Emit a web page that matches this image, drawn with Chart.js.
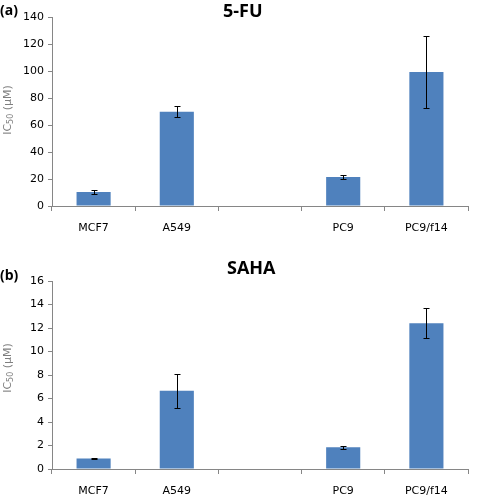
<!DOCTYPE html>
<html>
<head>
<meta charset="utf-8">
<script src="https://cdn.jsdelivr.net/npm/chart.js@4/dist/chart.umd.min.js"></script>
<style>
body { margin: 0; background: #fff; }
#wrap { position: relative; width: 477px; height: 496px; overflow: hidden; }
.box { position: absolute; left: 0; width: 477px; }
.lbl { position: absolute; font-family: "Open Sans", sans-serif; font-weight: bold; color: #000; white-space: nowrap; line-height: 20px; }
.ytitle { position: absolute; width: 100px; height: 14px; line-height: 14px; text-align: center;
  transform: rotate(-90deg); color: #7f7f7f; font-family: "DejaVu Sans", sans-serif; font-size: 11px; white-space: nowrap; }
.ytitle sub { font-size: 8px; vertical-align: -2px; }
</style>
</head>
<body>
<div id="wrap">
  <div class="box" style="top:0;height:245px"><canvas id="fuChart"></canvas></div>
  <div class="box" style="top:248px;height:248px"><canvas id="sahaChart"></canvas></div>
  <div class="lbl" style="left:0;top:0px;font-size:14px">(a)</div>
  <div class="lbl" style="left:223px;top:0px;font-size:18px">5-FU</div>
  <div class="lbl" style="left:0;top:265px;font-size:14px">(b)</div>
  <div class="lbl" style="left:227px;top:257px;font-size:18px">SAHA</div>
  <div class="ytitle" style="left:-42px;top:103px">IC<sub>50</sub> (μM)</div>
  <div class="ytitle" style="left:-42px;top:361px">IC<sub>50</sub> (μM)</div>
</div>
<script>
"use strict";

const cellLines = ['MCF7', 'A549', '', 'PC9', 'PC9/f14'];

// 5-FU IC50 (µM) and error
const fuValues = [10.4, 69.8, null, 21.4, 99.3];
const fuErrors = [1.8, 4.0, null, 1.5, 26.7];
const fuTicks = [0, 20, 40, 60, 80, 100, 120, 140];

// SAHA IC50 (µM) and error
const sahaValues = [0.9, 6.65, null, 1.85, 12.4];
const sahaErrors = [0.04, 1.45, null, 0.15, 1.27];
const sahaTicks = [0, 2, 4, 6, 8, 10, 12, 14, 16];

const AXIS_COLOR = '#868686';
const BAR_COLOR = '#4f81bd';

// draws the black error bars with caps on top of each bar
const errorBars = {
    id: 'errorBars',
    afterDatasetsDraw(chart, args, opts) {
        const { ctx } = chart;
        const yScale = chart.scales.y;
        const meta = chart.getDatasetMeta(0);
        const vals = chart.data.datasets[0].data;
        ctx.save();
        ctx.strokeStyle = '#000';
        ctx.lineWidth = 1;
        meta.data.forEach((bar, i) => {
            const v = vals[i], e = opts.errors[i];
            if (v == null || e == null) return;
            const x = Math.round(bar.x) + 0.5;
            const yTop = Math.round(yScale.getPixelForValue(v + e)) + 0.5;
            const yBot = Math.round(yScale.getPixelForValue(v - e)) + 0.5;
            ctx.beginPath();
            ctx.moveTo(x, yTop); ctx.lineTo(x, yBot);
            ctx.moveTo(x - 3, yTop); ctx.lineTo(x + 3, yTop);
            ctx.moveTo(x - 3, yBot); ctx.lineTo(x + 3, yBot);
            ctx.stroke();
        });
        ctx.restore();
    }
};

function drawPanel(canvasId, values, errors, ticks, padTop, xHeight) {
    const ctx = document.getElementById(canvasId).getContext('2d');
    const yMax = ticks[ticks.length - 1];
    const yStep = ticks[1] - ticks[0];
    return new Chart(ctx, {
        type: 'bar',
        data: {
            labels: cellLines,
            datasets: [{ data: values, backgroundColor: BAR_COLOR, borderWidth: 0,
                         categoryPercentage: 1, barPercentage: 0.41 }]
        },
        options: {
            responsive: true, maintainAspectRatio: false, animation: false,
            layout: { padding: { top: padTop, right: 9, left: 0, bottom: 0 } },
            plugins: { legend: { display: false }, tooltip: { enabled: false }, errorBars: { errors } },
            scales: {
                x: {
                    grid: { drawOnChartArea: false, drawTicks: true, tickLength: 5, color: AXIS_COLOR, offset: true },
                    border: { color: AXIS_COLOR },
                    ticks: { color: '#000', padding: 11, maxRotation: 0, font: { family: 'DejaVu Sans', size: 11 } },
                    afterFit(s) { s.height = xHeight; }
                },
                y: {
                    min: 0, max: yMax,
                    grid: { drawOnChartArea: false, drawTicks: true, tickLength: 4, color: AXIS_COLOR },
                    border: { color: AXIS_COLOR },
                    ticks: { stepSize: yStep, color: '#000', padding: 4, font: { family: 'DejaVu Sans', size: 11 } },
                    afterFit(s) { s.width = 52; }
                }
            }
        },
        plugins: [errorBars]
    });
}

drawPanel('fuChart', fuValues, fuErrors, fuTicks, 17, 39);
drawPanel('sahaChart', sahaValues, sahaErrors, sahaTicks, 33, 27);
</script>
</body>
</html>
